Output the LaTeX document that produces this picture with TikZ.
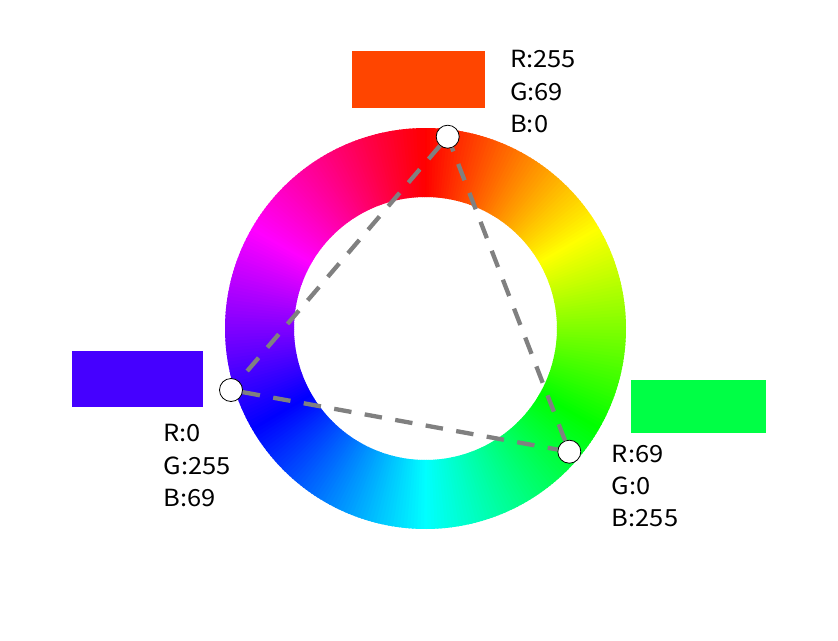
\documentclass[tikz,border=0pt]{standalone}
\usepackage{fontspec}
\setmainfont{Noto Sans CJK JP}[FakeStretch=1.08]
\begin{document}
\begin{tikzpicture}[x=1pt,y=-1pt,
  lbl/.style={anchor=base west,inner sep=0pt,font=\fontsize{23.6}{32}\selectfont,text=black},
  pt/.style={circle,draw=black,line width=0.8pt,fill=white,minimum size=23pt,inner sep=0pt},
  conn/.style={draw=gray,line width=4.3pt,dash pattern=on 17.5pt off 13.5pt}]
\useasboundingbox (0,0) rectangle (838,640);
\fill[white] (0,0) rectangle (838,640);
% hue ring
\begin{scope}[shift={(425.5,328.5)}]
\foreach \h in {0,...,359}{
  \definecolor{hc}{Hsb}{\h,1,1}
  \pgfmathsetmacro{\a}{\h-90.6}
  \pgfmathsetmacro{\b}{\h-89.2}
  \fill[hc] (\a:200.5) arc[start angle=\a,end angle=\b,radius=200.5] -- (\b:131.5) arc[start angle=\b,end angle=\a,radius=131.5] -- cycle;
}
\end{scope}
% swatches
\definecolor{sw1}{RGB}{255,69,0}
\definecolor{sw2}{RGB}{69,0,255}
\definecolor{sw3}{RGB}{0,255,69}
\fill[sw1] (352,51) rectangle (485,107.5);
\fill[sw2] (72,350.7) rectangle (202.7,406.7);
\fill[sw3] (631,380) rectangle (766,433.3);
% points
\node[pt] (p1) at (447.7,136.7) {};
\node[pt] (p2) at (231,390) {};
\node[pt] (p3) at (569.3,451.7) {};
\draw[conn] (p1) -- (p2);
\draw[conn] (p2) -- (p3);
\draw[conn] (p3) -- (p1);
% labels
\node[lbl] (t1) at (510,67.3) {R:255};
\node[lbl] (t2) at (510,100) {G:69};
\node[lbl] (t3) at (510,132.3) {B:0};
\node[lbl] (l1) at (163.3,441.7) {R:0};
\node[lbl] (l2) at (163.3,474.3) {G:255};
\node[lbl] (l3) at (163.3,506.7) {B:69};
\node[lbl] (r1) at (611.7,462.3) {R:69};
\node[lbl] (r2) at (611.7,494) {G:0};
\node[lbl] (r3) at (611.7,526.7) {B:255};
\end{tikzpicture}
\end{document}
